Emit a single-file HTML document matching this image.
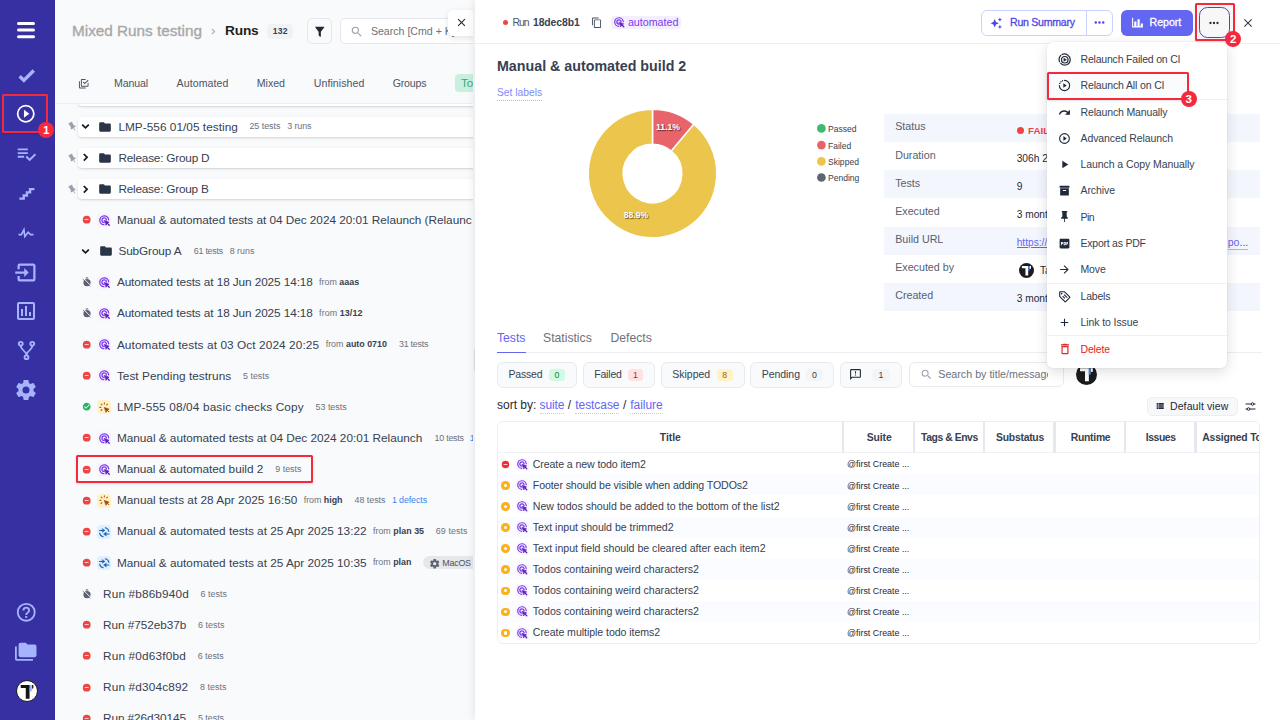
<!DOCTYPE html><html><head><meta charset="utf-8"><title>Runs</title><style>
*{box-sizing:border-box;margin:0;padding:0}
html,body{width:1280px;height:720px;overflow:hidden}
body{font-family:"Liberation Sans",sans-serif;background:#f9fafb;color:#374151;position:relative;-webkit-font-smoothing:antialiased}
.abs{position:absolute}
.ic{display:block;flex:none}
#sidebar{position:absolute;left:0;top:0;width:55px;height:720px;background:#3730a3}
#sidebar .si{position:absolute;left:0;width:52px;display:flex;justify-content:center}
#list{position:absolute;left:55px;top:0;width:420px;height:720px;background:#f9fafb;overflow:hidden}
.bc{position:absolute;left:17px;top:21px;height:20px;display:flex;align-items:center;white-space:nowrap}
.bc .p1{font-size:15.3px;color:#a3a3a3;font-weight:400;letter-spacing:0}
.bc .sep{font-size:13px;color:#9ca3af;margin:0 9px 0 10px}
.bc .p2{font-size:15px;font-weight:700;color:#1f2937}
.bc .cnt{margin-left:9px;font-size:8.5px;font-weight:700;color:#374151;background:#f3f4f6;border-radius:4px;padding:2px 4px}
.fbtn{position:absolute;left:252.2px;top:18.4px;width:25px;height:26px;border:1px solid #e5e7eb;border-radius:5px;background:#f9fafb;display:flex;align-items:center;justify-content:center}
.srch{position:absolute;left:285.4px;top:18.4px;width:160px;height:26px;border:1px solid #e5e7eb;border-radius:5px;background:#fff;display:flex;align-items:center;padding-left:9px;font-size:10.6px;color:#6b7280;white-space:nowrap;overflow:hidden}
.srch svg{margin-right:7px}
#listclip{position:absolute;left:0;top:0;width:418.1px;height:720px;overflow:hidden}
.xtab{position:absolute;left:392.5px;top:10.3px;width:30px;height:25.3px;background:#fff;border-radius:5px 0 0 5px;box-shadow:0 2px 6px rgba(0,0,0,.12);display:flex;align-items:center;padding-left:7px}
.tabs{position:absolute;left:0;top:70px;width:420px;height:33px;border-bottom:1px solid #e5e7eb;font-size:10.6px;color:#4b5563;white-space:nowrap}
.tabs span{position:absolute;top:7px;line-height:12px}
.row{position:absolute;left:0;width:417px;height:20px;display:flex;align-items:center;white-space:nowrap;font-size:11.75px;color:#374151;overflow:hidden}
.row .t{margin-left:0}
.row .m{font-size:8.6px;color:#6b7280;margin-left:9px}
.row .m b{color:#374151}
.row .m2{font-size:8.6px;color:#6b7280;margin-left:5px}
.card{position:absolute;left:23.3px;width:410px;height:20px;background:#fff;border-radius:4px;box-shadow:0 1px 3px rgba(0,0,0,.13),0 1px 1px rgba(0,0,0,.04)}
.tbg{width:14px;height:14px;border-radius:3.5px;display:flex;align-items:center;justify-content:center;flex:none}
#panel{position:absolute;left:475px;top:0;width:805px;height:720px;background:#fff;box-shadow:-2px 0 7px rgba(0,0,0,.08)}
#phead{position:absolute;left:0;top:0;width:805px;height:44.3px;border-bottom:1px solid #eceef1}
.lnk{color:#6366f1}

.chip{margin-left:12px;height:13px;border-radius:6.5px;background:#e5e7eb;display:inline-flex;align-items:center;padding:0 5px 0 4px;font-size:8.8px;color:#374151}
.chip span{margin-left:2.5px}
.th{font-size:10.6px;font-weight:700;color:#374151;line-height:13px;white-space:nowrap}
.sl{border-bottom:1px dotted #c3c9fb;padding-bottom:0}
</style></head><body><div id="list"><div id="listclip"><span class="abs " style="left:17.0px;top:21.4px;font-size:15.3px;line-height:19.1px;letter-spacing:-0.006px;color:#a8a8a8;white-space:nowrap; -webkit-text-stroke:.35px #a8a8a8;">Mixed Runs testing</span><span class="abs" style="left:156px;top:22.5px;font-size:13px;line-height:16px;color:#9ca3af">›</span><span class="abs " style="left:170.0px;top:22.4px;font-size:13.7px;line-height:17.1px;letter-spacing:-0.183px;color:#1f1f1f;font-weight:700;white-space:nowrap;">Runs</span><div class="abs" style="left:212px;top:23.5px;width:26px;height:15px;border-radius:4px;background:#f1f2f4"></div><span class="abs " style="left:217.7px;top:25.9px;font-size:8.6px;line-height:10.8px;letter-spacing:0.276px;color:#374151;font-weight:700;white-space:nowrap;">132</span><div class="fbtn"><svg class="ic" width="13.5" height="13.5" viewBox="0 0 24 24" style=""><path fill="#1f2937" d="M14,12V19.88C14.04,20.18 13.94,20.5 13.71,20.71C13.32,21.1 12.69,21.1 12.3,20.71L10.29,18.7C10.06,18.47 9.96,18.16 10,17.87V12H9.97L4.21,4.62C3.87,4.19 3.95,3.56 4.38,3.22C4.57,3.08 4.78,3 5,3V3H19V3C19.22,3 19.43,3.08 19.62,3.22C20.05,3.56 20.13,4.19 19.79,4.62L14.03,12H14Z"/></svg></div><div class="srch"><svg class="ic" width="13.5" height="13.5" viewBox="0 0 24 24" style=""><path fill="#9ca3af" d="M9.5,3A6.5,6.5 0 0,1 16,9.5C16,11.11 15.41,12.59 14.44,13.73L14.71,14H15.5L20.5,19L19,20.5L14,15.5V14.71L13.73,14.44C12.59,15.41 11.11,16 9.5,16A6.5,6.5 0 0,1 3,9.5A6.5,6.5 0 0,1 9.5,3M9.5,5C7,5 5,7 5,9.5C5,12 7,14 9.5,14C12,14 14,12 14,9.5C14,7 12,5 9.5,5Z"/></svg><span>Search [Cmd + K]</span></div><div class="xtab"><svg class="ic" width="13" height="13" viewBox="0 0 24 24" style=""><path fill="#1f2937" d="M19,6.41L17.59,5L12,10.59L6.41,5L5,6.41L10.59,12L5,17.59L6.41,19L12,13.41L17.59,19L19,17.59L13.41,12L19,6.41Z"/></svg></div><div class="card" style="top:86px;height:19.5px"></div><div class="abs" style="left:0;top:56px;width:420px;height:47px;background:#f9fafb"></div><div class="abs" style="left:0;top:102.5px;width:420px;height:1px;background:#eceef1"></div><div class="abs" style="left:22.5px;top:77.5px"><svg class="ic" width="11.5" height="11.5" viewBox="0 0 24 24" style=""><path fill="#4b5563" d="M20,16V10H22V16A2,2 0 0,1 20,18H8C6.89,18 6,17.1 6,16V4C6,2.89 6.89,2 8,2H16V4H8V16H20M10.91,7.08L14,10.17L20.59,3.58L22,5L14,13L9.5,8.5L10.91,7.08M16,20V22H4A2,2 0 0,1 2,20V7H4V20H16Z"/></svg></div><span class="abs " style="left:59.0px;top:76.7px;font-size:10.6px;line-height:13.2px;letter-spacing:-0.113px;color:#4b5563;white-space:nowrap;">Manual</span><span class="abs " style="left:121.6px;top:76.7px;font-size:10.6px;line-height:13.2px;letter-spacing:0.079px;color:#4b5563;white-space:nowrap;">Automated</span><span class="abs " style="left:201.8px;top:76.7px;font-size:10.6px;line-height:13.2px;letter-spacing:-0.019px;color:#4b5563;white-space:nowrap;">Mixed</span><span class="abs " style="left:258.8px;top:76.7px;font-size:10.6px;line-height:13.2px;letter-spacing:0.046px;color:#4b5563;white-space:nowrap;">Unfinished</span><span class="abs " style="left:337.7px;top:76.7px;font-size:10.6px;line-height:13.2px;letter-spacing:-0.172px;color:#4b5563;white-space:nowrap;">Groups</span><div class="abs" style="left:400px;top:74px;width:40px;height:18px;background:#c9f0de;border-radius:4px"></div><span class="abs" style="left:406px;top:76px;font-size:11.6px;line-height:14px;color:#3aa87a">Total</span><div class="card" style="top:116.80px"></div><div class="abs" style="left:12.099999999999994px;top:121.40px;transform:rotate(-32deg)"><svg class="ic" width="11" height="11" viewBox="0 0 24 24" style=""><path fill="#9aa1ad" d="M16,12V4H17V2H7V4H8V12L6,14V16H11.2V22H12.8V16H18V14L16,12Z"/></svg></div><svg class="abs" style="left:25.3px;top:121.3px" width="11" height="11" viewBox="0 0 11 11" fill="none" stroke="#111827" stroke-width="1.7"><path d="M2.2 3.6L5.5 6.9L8.8 3.6"/></svg><div class="abs" style="left:43.2px;top:119.60px"><svg class="ic" width="14" height="14" viewBox="0 0 24 24" style=""><path fill="#2b3548" d="M10,4H4C2.89,4 2,4.89 2,6V18A2,2 0 0,0 4,20H20A2,2 0 0,0 22,18V8C22,6.89 21.1,6 20,6H12L10,4Z"/></svg></div><span class="abs " style="left:63.4px;top:119.5px;font-size:11.8px;line-height:14.8px;letter-spacing:0.038px;color:#374151;white-space:nowrap;">LMP-556 01/05 testing</span><span class="abs " style="left:194.4px;top:121.3px;font-size:8.9px;line-height:11.1px;letter-spacing:-0.010px;color:#6b7280;white-space:nowrap;">25 tests</span><span class="abs " style="left:232.2px;top:121.3px;font-size:8.9px;line-height:11.1px;letter-spacing:-0.067px;color:#6b7280;white-space:nowrap;">3 runs</span><div class="card" style="top:147.95px"></div><div class="abs" style="left:12.099999999999994px;top:152.55px;transform:rotate(-32deg)"><svg class="ic" width="11" height="11" viewBox="0 0 24 24" style=""><path fill="#9aa1ad" d="M16,12V4H17V2H7V4H8V12L6,14V16H11.2V22H12.8V16H18V14L16,12Z"/></svg></div><svg class="abs" style="left:25.3px;top:152.4px" width="11" height="11" viewBox="0 0 11 11" fill="none" stroke="#111827" stroke-width="1.7"><path d="M3.8 2L7.1 5.3L3.8 8.6"/></svg><div class="abs" style="left:43.2px;top:150.75px"><svg class="ic" width="14" height="14" viewBox="0 0 24 24" style=""><path fill="#2b3548" d="M10,4H4C2.89,4 2,4.89 2,6V18A2,2 0 0,0 4,20H20A2,2 0 0,0 22,18V8C22,6.89 21.1,6 20,6H12L10,4Z"/></svg></div><span class="abs " style="left:63.4px;top:150.7px;font-size:11.8px;line-height:14.8px;letter-spacing:-0.216px;color:#374151;white-space:nowrap;">Release: Group D</span><div class="card" style="top:179.10px"></div><div class="abs" style="left:12.099999999999994px;top:183.70px;transform:rotate(-32deg)"><svg class="ic" width="11" height="11" viewBox="0 0 24 24" style=""><path fill="#9aa1ad" d="M16,12V4H17V2H7V4H8V12L6,14V16H11.2V22H12.8V16H18V14L16,12Z"/></svg></div><svg class="abs" style="left:25.3px;top:183.6px" width="11" height="11" viewBox="0 0 11 11" fill="none" stroke="#111827" stroke-width="1.7"><path d="M3.8 2L7.1 5.3L3.8 8.6"/></svg><div class="abs" style="left:43.2px;top:181.90px"><svg class="ic" width="14" height="14" viewBox="0 0 24 24" style=""><path fill="#2b3548" d="M10,4H4C2.89,4 2,4.89 2,6V18A2,2 0 0,0 4,20H20A2,2 0 0,0 22,18V8C22,6.89 21.1,6 20,6H12L10,4Z"/></svg></div><span class="abs " style="left:63.4px;top:181.8px;font-size:11.8px;line-height:14.8px;letter-spacing:-0.220px;color:#374151;white-space:nowrap;">Release: Group B</span><div class="abs" style="left:26.9px;top:215.3px"><svg class="ic" width="9.4" height="9.4" viewBox="0 0 24 24" style=""><path fill="#ef4444" d="M17,13H7V11H17M12,2A10,10 0 0,0 2,12A10,10 0 0,0 12,22A10,10 0 0,0 22,12A10,10 0 0,0 12,2Z"/></svg></div><div class="abs tbg" style="left:42.4px;top:213.3px;background:#f8f4ff"><svg class="ic" width="11.5" height="11.5" viewBox="0 0 24 24" style="" fill="none" stroke="#7c3aed" stroke-width="2.7" stroke-linecap="round"><path d="M20.2 10.2A9.3 9.3 0 1 0 10.2 20.2"/><path d="M15.4 10.6A4.6 4.6 0 1 0 10.6 15.4"/><path d="M11.5 11.5L21 15L17 17L15 21Z" fill="#5b21b6" stroke="#5b21b6" stroke-width="1.4" stroke-linejoin="round"/><path d="M17.5 17.5L21.3 21.3" stroke="#5b21b6" stroke-width="2.8"/></svg></div><div class="abs" style="left:0;top:210.0px;width:416.95px;height:20px;overflow:hidden"><div style="position:absolute;left:0;top:-210.0px"><span class="abs " style="left:61.9px;top:212.9px;font-size:11.8px;line-height:14.8px;letter-spacing:-0.033px;color:#374151;white-space:nowrap;">Manual &amp; automated tests at 04 Dec 2024 20:01 Relaunch (Relaunch Copy)</span></div></div><svg class="abs" style="left:25.3px;top:245.9px" width="11" height="11" viewBox="0 0 11 11" fill="none" stroke="#111827" stroke-width="1.7"><path d="M2.2 3.6L5.5 6.9L8.8 3.6"/></svg><div class="abs" style="left:43.599999999999994px;top:244.00px"><svg class="ic" width="14" height="14" viewBox="0 0 24 24" style=""><path fill="#2b3548" d="M10,4H4C2.89,4 2,4.89 2,6V18A2,2 0 0,0 4,20H20A2,2 0 0,0 22,18V8C22,6.89 21.1,6 20,6H12L10,4Z"/></svg></div><span class="abs " style="left:63.4px;top:244.1px;font-size:11.8px;line-height:14.8px;letter-spacing:-0.121px;color:#374151;white-space:nowrap;">SubGroup A</span><span class="abs " style="left:138.8px;top:245.9px;font-size:8.9px;line-height:11.1px;letter-spacing:-0.252px;color:#6b7280;white-space:nowrap;">61 tests</span><span class="abs " style="left:174.7px;top:245.9px;font-size:8.9px;line-height:11.1px;letter-spacing:-0.007px;color:#6b7280;white-space:nowrap;">8 runs</span><svg class="abs" style="left:26.6px;top:277.1px" width="10" height="10" viewBox="0 0 24 24"><circle cx="12" cy="13.5" r="8.6" fill="#5b6272"/><rect x="9" y="1" width="6" height="2.6" fill="#5b6272"/><path d="M3.2 2.8L21.5 21" stroke="#f9fafb" stroke-width="2.2"/><path d="M1.8 4.6L20 22.8" stroke="#5b6272" stroke-width="1.7"/></svg><div class="abs tbg" style="left:42.4px;top:275.7px;background:#f8f4ff"><svg class="ic" width="11.5" height="11.5" viewBox="0 0 24 24" style="" fill="none" stroke="#7c3aed" stroke-width="2.7" stroke-linecap="round"><path d="M20.2 10.2A9.3 9.3 0 1 0 10.2 20.2"/><path d="M15.4 10.6A4.6 4.6 0 1 0 10.6 15.4"/><path d="M11.5 11.5L21 15L17 17L15 21Z" fill="#5b21b6" stroke="#5b21b6" stroke-width="1.4" stroke-linejoin="round"/><path d="M17.5 17.5L21.3 21.3" stroke="#5b21b6" stroke-width="2.8"/></svg></div><span class="abs " style="left:61.9px;top:275.3px;font-size:11.8px;line-height:14.8px;letter-spacing:-0.098px;color:#374151;white-space:nowrap;">Automated tests at 18 Jun 2025 14:18</span><span class="abs" style="left:264.1px;top:277.1px;font-size:8.9px;line-height:11.1px;letter-spacing:0.004px;color:#6b7280;white-space:nowrap">from <b style="color:#374151">aaas</b></span><svg class="abs" style="left:26.6px;top:308.2px" width="10" height="10" viewBox="0 0 24 24"><circle cx="12" cy="13.5" r="8.6" fill="#5b6272"/><rect x="9" y="1" width="6" height="2.6" fill="#5b6272"/><path d="M3.2 2.8L21.5 21" stroke="#f9fafb" stroke-width="2.2"/><path d="M1.8 4.6L20 22.8" stroke="#5b6272" stroke-width="1.7"/></svg><div class="abs tbg" style="left:42.4px;top:306.8px;background:#f8f4ff"><svg class="ic" width="11.5" height="11.5" viewBox="0 0 24 24" style="" fill="none" stroke="#7c3aed" stroke-width="2.7" stroke-linecap="round"><path d="M20.2 10.2A9.3 9.3 0 1 0 10.2 20.2"/><path d="M15.4 10.6A4.6 4.6 0 1 0 10.6 15.4"/><path d="M11.5 11.5L21 15L17 17L15 21Z" fill="#5b21b6" stroke="#5b21b6" stroke-width="1.4" stroke-linejoin="round"/><path d="M17.5 17.5L21.3 21.3" stroke="#5b21b6" stroke-width="2.8"/></svg></div><span class="abs " style="left:61.9px;top:306.4px;font-size:11.8px;line-height:14.8px;letter-spacing:-0.098px;color:#374151;white-space:nowrap;">Automated tests at 18 Jun 2025 14:18</span><span class="abs" style="left:264.1px;top:308.2px;font-size:8.9px;line-height:11.1px;letter-spacing:0.095px;color:#6b7280;white-space:nowrap">from <b style="color:#374151">13/12</b></span><div class="abs" style="left:26.9px;top:339.9px"><svg class="ic" width="9.4" height="9.4" viewBox="0 0 24 24" style=""><path fill="#ef4444" d="M17,13H7V11H17M12,2A10,10 0 0,0 2,12A10,10 0 0,0 12,22A10,10 0 0,0 22,12A10,10 0 0,0 12,2Z"/></svg></div><div class="abs tbg" style="left:42.4px;top:337.9px;background:#f8f4ff"><svg class="ic" width="11.5" height="11.5" viewBox="0 0 24 24" style="" fill="none" stroke="#7c3aed" stroke-width="2.7" stroke-linecap="round"><path d="M20.2 10.2A9.3 9.3 0 1 0 10.2 20.2"/><path d="M15.4 10.6A4.6 4.6 0 1 0 10.6 15.4"/><path d="M11.5 11.5L21 15L17 17L15 21Z" fill="#5b21b6" stroke="#5b21b6" stroke-width="1.4" stroke-linejoin="round"/><path d="M17.5 17.5L21.3 21.3" stroke="#5b21b6" stroke-width="2.8"/></svg></div><span class="abs " style="left:61.9px;top:337.6px;font-size:11.8px;line-height:14.8px;letter-spacing:0.098px;color:#374151;white-space:nowrap;">Automated tests at 03 Oct 2024 20:25</span><span class="abs" style="left:270.7px;top:339.4px;font-size:8.9px;line-height:11.1px;letter-spacing:0.005px;color:#6b7280;white-space:nowrap">from <b style="color:#374151">auto 0710</b></span><span class="abs " style="left:344.0px;top:339.4px;font-size:8.9px;line-height:11.1px;letter-spacing:-0.252px;color:#6b7280;white-space:nowrap;">31 tests</span><div class="abs" style="left:26.9px;top:371.1px"><svg class="ic" width="9.4" height="9.4" viewBox="0 0 24 24" style=""><path fill="#ef4444" d="M17,13H7V11H17M12,2A10,10 0 0,0 2,12A10,10 0 0,0 12,22A10,10 0 0,0 22,12A10,10 0 0,0 12,2Z"/></svg></div><div class="abs tbg" style="left:42.4px;top:369.1px;background:#f8f4ff"><svg class="ic" width="11.5" height="11.5" viewBox="0 0 24 24" style="" fill="none" stroke="#7c3aed" stroke-width="2.7" stroke-linecap="round"><path d="M20.2 10.2A9.3 9.3 0 1 0 10.2 20.2"/><path d="M15.4 10.6A4.6 4.6 0 1 0 10.6 15.4"/><path d="M11.5 11.5L21 15L17 17L15 21Z" fill="#5b21b6" stroke="#5b21b6" stroke-width="1.4" stroke-linejoin="round"/><path d="M17.5 17.5L21.3 21.3" stroke="#5b21b6" stroke-width="2.8"/></svg></div><span class="abs " style="left:61.9px;top:368.7px;font-size:11.8px;line-height:14.8px;letter-spacing:0.041px;color:#374151;white-space:nowrap;">Test Pending testruns</span><span class="abs " style="left:188.1px;top:370.5px;font-size:8.9px;line-height:11.1px;letter-spacing:-0.020px;color:#6b7280;white-space:nowrap;">5 tests</span><div class="abs" style="left:26.9px;top:402.2px"><svg class="ic" width="9.4" height="9.4" viewBox="0 0 24 24" style=""><path fill="#22b562" d="M12 2C6.5 2 2 6.5 2 12S6.5 22 12 22 22 17.5 22 12 17.5 2 12 2M10 17L5 12L6.41 10.59L10 14.17L17.59 6.58L19 8L10 17Z"/></svg></div><div class="abs tbg" style="left:42.4px;top:400.2px;background:#fef3c7"><svg class="ic" width="12.5" height="12.5" viewBox="0 0 24 24" style="" fill="none" stroke="#c2570c" stroke-width="2.2" stroke-linecap="round"><path d="M12.5 12.5L21.2 15.6L17.7 17.3L21 20.6L20.6 21L17.3 17.7L15.6 21.2Z" fill="#9a3f06" stroke="#9a3f06" stroke-width="1.2" stroke-linejoin="round"/><path d="M5.6 12.2H3.4M7.5 7.5L6 6M12.2 5.6V3.4M16.7 7.4L18.2 5.9M7.4 16.7L5.9 18.2"/></svg></div><span class="abs " style="left:61.9px;top:399.8px;font-size:11.8px;line-height:14.8px;letter-spacing:0.149px;color:#374151;white-space:nowrap;">LMP-555 08/04 basic checks Copy</span><span class="abs " style="left:260.6px;top:401.7px;font-size:8.9px;line-height:11.1px;letter-spacing:-0.010px;color:#6b7280;white-space:nowrap;">53 tests</span><div class="abs" style="left:26.9px;top:433.4px"><svg class="ic" width="9.4" height="9.4" viewBox="0 0 24 24" style=""><path fill="#ef4444" d="M17,13H7V11H17M12,2A10,10 0 0,0 2,12A10,10 0 0,0 12,22A10,10 0 0,0 22,12A10,10 0 0,0 12,2Z"/></svg></div><div class="abs tbg" style="left:42.4px;top:431.4px;background:#f8f4ff"><svg class="ic" width="11.5" height="11.5" viewBox="0 0 24 24" style="" fill="none" stroke="#7c3aed" stroke-width="2.7" stroke-linecap="round"><path d="M20.2 10.2A9.3 9.3 0 1 0 10.2 20.2"/><path d="M15.4 10.6A4.6 4.6 0 1 0 10.6 15.4"/><path d="M11.5 11.5L21 15L17 17L15 21Z" fill="#5b21b6" stroke="#5b21b6" stroke-width="1.4" stroke-linejoin="round"/><path d="M17.5 17.5L21.3 21.3" stroke="#5b21b6" stroke-width="2.8"/></svg></div><span class="abs " style="left:61.9px;top:431.0px;font-size:11.8px;line-height:14.8px;letter-spacing:-0.016px;color:#374151;white-space:nowrap;">Manual &amp; automated tests at 04 Dec 2024 20:01 Relaunch</span><span class="abs " style="left:379.6px;top:432.9px;font-size:8.9px;line-height:11.1px;letter-spacing:-0.252px;color:#6b7280;white-space:nowrap;">10 tests</span><span class="abs " style="left:414.7px;top:432.9px;font-size:8.9px;line-height:11.1px;letter-spacing:-0.102px;color:#3b82f6;white-space:nowrap;">1 defects</span><div class="abs" style="left:26.9px;top:464.6px"><svg class="ic" width="9.4" height="9.4" viewBox="0 0 24 24" style=""><path fill="#ef4444" d="M17,13H7V11H17M12,2A10,10 0 0,0 2,12A10,10 0 0,0 12,22A10,10 0 0,0 22,12A10,10 0 0,0 12,2Z"/></svg></div><div class="abs tbg" style="left:42.4px;top:462.6px;background:#f8f4ff"><svg class="ic" width="11.5" height="11.5" viewBox="0 0 24 24" style="" fill="none" stroke="#7c3aed" stroke-width="2.7" stroke-linecap="round"><path d="M20.2 10.2A9.3 9.3 0 1 0 10.2 20.2"/><path d="M15.4 10.6A4.6 4.6 0 1 0 10.6 15.4"/><path d="M11.5 11.5L21 15L17 17L15 21Z" fill="#5b21b6" stroke="#5b21b6" stroke-width="1.4" stroke-linejoin="round"/><path d="M17.5 17.5L21.3 21.3" stroke="#5b21b6" stroke-width="2.8"/></svg></div><span class="abs " style="left:61.9px;top:462.2px;font-size:11.8px;line-height:14.8px;letter-spacing:-0.022px;color:#374151;white-space:nowrap;">Manual &amp; automated build 2</span><span class="abs " style="left:220.2px;top:464.0px;font-size:8.9px;line-height:11.1px;letter-spacing:0.030px;color:#6b7280;white-space:nowrap;">9 tests</span><div class="abs" style="left:26.9px;top:495.7px"><svg class="ic" width="9.4" height="9.4" viewBox="0 0 24 24" style=""><path fill="#ef4444" d="M17,13H7V11H17M12,2A10,10 0 0,0 2,12A10,10 0 0,0 12,22A10,10 0 0,0 22,12A10,10 0 0,0 12,2Z"/></svg></div><div class="abs tbg" style="left:42.4px;top:493.7px;background:#fef3c7"><svg class="ic" width="12.5" height="12.5" viewBox="0 0 24 24" style="" fill="none" stroke="#c2570c" stroke-width="2.2" stroke-linecap="round"><path d="M12.5 12.5L21.2 15.6L17.7 17.3L21 20.6L20.6 21L17.3 17.7L15.6 21.2Z" fill="#9a3f06" stroke="#9a3f06" stroke-width="1.2" stroke-linejoin="round"/><path d="M5.6 12.2H3.4M7.5 7.5L6 6M12.2 5.6V3.4M16.7 7.4L18.2 5.9M7.4 16.7L5.9 18.2"/></svg></div><span class="abs " style="left:61.9px;top:493.3px;font-size:11.8px;line-height:14.8px;letter-spacing:0.023px;color:#374151;white-space:nowrap;">Manual tests at 28 Apr 2025 16:50</span><span class="abs" style="left:248.7px;top:495.1px;font-size:8.9px;line-height:11.1px;letter-spacing:-0.019px;color:#6b7280;white-space:nowrap">from <b style="color:#374151">high</b></span><span class="abs " style="left:299.5px;top:495.1px;font-size:8.9px;line-height:11.1px;letter-spacing:-0.010px;color:#6b7280;white-space:nowrap;">48 tests</span><span class="abs " style="left:336.9px;top:495.1px;font-size:8.9px;line-height:11.1px;letter-spacing:-0.102px;color:#3b82f6;white-space:nowrap;">1 defects</span><div class="abs" style="left:26.9px;top:526.8px"><svg class="ic" width="9.4" height="9.4" viewBox="0 0 24 24" style=""><path fill="#ef4444" d="M17,13H7V11H17M12,2A10,10 0 0,0 2,12A10,10 0 0,0 12,22A10,10 0 0,0 22,12A10,10 0 0,0 12,2Z"/></svg></div><div class="abs tbg" style="left:42.4px;top:524.8px;background:#e1effe"><svg class="ic" width="12.5" height="12.5" viewBox="0 0 24 24" style="" fill="none" stroke="#1c64b0" stroke-width="2.1" stroke-linecap="round"><path d="M2.8 8.5H9"/><path d="M8.6 5.2L13.4 8.5L8.6 11.8Z" fill="#1c64b0" stroke-width="1" stroke-linejoin="round"/><path d="M14 3.4A8.8 8.8 0 0 1 20.8 10.4"/><path d="M21.2 15.5H15"/><path d="M15.4 12.2L10.6 15.5L15.4 18.8Z" fill="#1c64b0" stroke-width="1" stroke-linejoin="round"/><path d="M10 20.6A8.8 8.8 0 0 1 3.2 13.6"/></svg></div><span class="abs " style="left:61.9px;top:524.4px;font-size:11.8px;line-height:14.8px;letter-spacing:-0.005px;color:#374151;white-space:nowrap;">Manual &amp; automated tests at 25 Apr 2025 13:22</span><span class="abs" style="left:317.9px;top:526.3px;font-size:8.9px;line-height:11.1px;letter-spacing:0.033px;color:#6b7280;white-space:nowrap">from <b style="color:#374151">plan 35</b></span><span class="abs " style="left:380.8px;top:526.3px;font-size:8.9px;line-height:11.1px;letter-spacing:0.090px;color:#6b7280;white-space:nowrap;">69 tests</span><div class="abs" style="left:26.9px;top:558.0px"><svg class="ic" width="9.4" height="9.4" viewBox="0 0 24 24" style=""><path fill="#ef4444" d="M17,13H7V11H17M12,2A10,10 0 0,0 2,12A10,10 0 0,0 12,22A10,10 0 0,0 22,12A10,10 0 0,0 12,2Z"/></svg></div><div class="abs tbg" style="left:42.4px;top:556.0px;background:#e1effe"><svg class="ic" width="12.5" height="12.5" viewBox="0 0 24 24" style="" fill="none" stroke="#1c64b0" stroke-width="2.1" stroke-linecap="round"><path d="M2.8 8.5H9"/><path d="M8.6 5.2L13.4 8.5L8.6 11.8Z" fill="#1c64b0" stroke-width="1" stroke-linejoin="round"/><path d="M14 3.4A8.8 8.8 0 0 1 20.8 10.4"/><path d="M21.2 15.5H15"/><path d="M15.4 12.2L10.6 15.5L15.4 18.8Z" fill="#1c64b0" stroke-width="1" stroke-linejoin="round"/><path d="M10 20.6A8.8 8.8 0 0 1 3.2 13.6"/></svg></div><span class="abs " style="left:61.9px;top:555.6px;font-size:11.8px;line-height:14.8px;letter-spacing:-0.005px;color:#374151;white-space:nowrap;">Manual &amp; automated tests at 25 Apr 2025 10:35</span><span class="abs" style="left:317.9px;top:557.4px;font-size:8.9px;line-height:11.1px;letter-spacing:0.004px;color:#6b7280;white-space:nowrap">from <b style="color:#374151">plan</b></span><div class="abs" style="left:368px;top:556.0px;width:60px;height:13px;border-radius:6.5px;background:#e5e7eb"></div><div class="abs" style="left:373.7px;top:557.9px"><svg class="ic" width="11.4" height="11.4" viewBox="0 0 24 24" style=""><path fill="#5b6272" d="M12,15.5A3.5,3.5 0 0,1 8.5,12A3.5,3.5 0 0,1 12,8.5A3.5,3.5 0 0,1 15.5,12A3.5,3.5 0 0,1 12,15.5M19.43,12.97C19.47,12.65 19.5,12.33 19.5,12C19.5,11.67 19.47,11.34 19.43,11L21.54,9.37C21.73,9.22 21.78,8.95 21.66,8.73L19.66,5.27C19.54,5.05 19.27,4.96 19.05,5.05L16.56,6.05C16.04,5.66 15.5,5.32 14.87,5.07L14.5,2.42C14.46,2.18 14.25,2 14,2H10C9.75,2 9.54,2.18 9.5,2.42L9.13,5.07C8.5,5.32 7.96,5.66 7.44,6.05L4.95,5.05C4.73,4.96 4.46,5.05 4.34,5.27L2.34,8.73C2.21,8.95 2.27,9.22 2.46,9.37L4.57,11C4.53,11.34 4.5,11.67 4.5,12C4.5,12.33 4.53,12.65 4.57,12.97L2.46,14.63C2.27,14.78 2.21,15.05 2.34,15.27L4.34,18.73C4.46,18.95 4.73,19.03 4.95,18.95L7.44,17.94C7.96,18.34 8.5,18.68 9.13,18.93L9.5,21.58C9.54,21.82 9.75,22 10,22H14C14.25,22 14.46,21.82 14.5,21.58L14.87,18.93C15.5,18.67 16.04,18.34 16.56,17.94L19.05,18.95C19.27,19.03 19.54,18.95 19.66,18.73L21.66,15.27C21.78,15.05 21.73,14.78 21.54,14.63L19.43,12.97Z"/></svg></div><span class="abs " style="left:387.3px;top:558.0px;font-size:8.9px;line-height:11.1px;letter-spacing:-0.218px;color:#4b5563;white-space:nowrap;">MacOS</span><svg class="abs" style="left:26.6px;top:588.6px" width="10" height="10" viewBox="0 0 24 24"><circle cx="12" cy="13.5" r="8.6" fill="#5b6272"/><rect x="9" y="1" width="6" height="2.6" fill="#5b6272"/><path d="M3.2 2.8L21.5 21" stroke="#f9fafb" stroke-width="2.2"/><path d="M1.8 4.6L20 22.8" stroke="#5b6272" stroke-width="1.7"/></svg><span class="abs " style="left:48.0px;top:586.8px;font-size:11.8px;line-height:14.8px;letter-spacing:0.151px;color:#374151;white-space:nowrap;">Run #b86b940d</span><span class="abs " style="left:145.6px;top:588.6px;font-size:8.9px;line-height:11.1px;letter-spacing:0.047px;color:#6b7280;white-space:nowrap;">6 tests</span><div class="abs" style="left:26.9px;top:620.3px"><svg class="ic" width="9.4" height="9.4" viewBox="0 0 24 24" style=""><path fill="#ef4444" d="M17,13H7V11H17M12,2A10,10 0 0,0 2,12A10,10 0 0,0 12,22A10,10 0 0,0 22,12A10,10 0 0,0 12,2Z"/></svg></div><span class="abs " style="left:48.0px;top:617.9px;font-size:11.8px;line-height:14.8px;letter-spacing:-0.049px;color:#374151;white-space:nowrap;">Run #752eb37b</span><span class="abs " style="left:143.0px;top:619.8px;font-size:8.9px;line-height:11.1px;letter-spacing:0.030px;color:#6b7280;white-space:nowrap;">6 tests</span><div class="abs" style="left:26.9px;top:651.4px"><svg class="ic" width="9.4" height="9.4" viewBox="0 0 24 24" style=""><path fill="#ef4444" d="M17,13H7V11H17M12,2A10,10 0 0,0 2,12A10,10 0 0,0 12,22A10,10 0 0,0 22,12A10,10 0 0,0 12,2Z"/></svg></div><span class="abs " style="left:48.0px;top:649.0px;font-size:11.8px;line-height:14.8px;letter-spacing:0.175px;color:#374151;white-space:nowrap;">Run #0d63f0bd</span><span class="abs " style="left:142.7px;top:650.9px;font-size:8.9px;line-height:11.1px;letter-spacing:-0.020px;color:#6b7280;white-space:nowrap;">6 tests</span><div class="abs" style="left:26.9px;top:682.6px"><svg class="ic" width="9.4" height="9.4" viewBox="0 0 24 24" style=""><path fill="#ef4444" d="M17,13H7V11H17M12,2A10,10 0 0,0 2,12A10,10 0 0,0 12,22A10,10 0 0,0 22,12A10,10 0 0,0 12,2Z"/></svg></div><span class="abs " style="left:48.0px;top:680.2px;font-size:11.8px;line-height:14.8px;letter-spacing:0.156px;color:#374151;white-space:nowrap;">Run #d304c892</span><span class="abs " style="left:145.0px;top:682.0px;font-size:8.9px;line-height:11.1px;letter-spacing:0.047px;color:#6b7280;white-space:nowrap;">8 tests</span><div class="abs" style="left:26.9px;top:713.8px"><svg class="ic" width="9.4" height="9.4" viewBox="0 0 24 24" style=""><path fill="#ef4444" d="M17,13H7V11H17M12,2A10,10 0 0,0 2,12A10,10 0 0,0 12,22A10,10 0 0,0 22,12A10,10 0 0,0 12,2Z"/></svg></div><span class="abs " style="left:48.0px;top:711.4px;font-size:11.8px;line-height:14.8px;letter-spacing:-0.074px;color:#374151;white-space:nowrap;">Run #26d30145</span><span class="abs " style="left:143.0px;top:713.2px;font-size:8.9px;line-height:11.1px;letter-spacing:-0.020px;color:#6b7280;white-space:nowrap;">5 tests</span></div><div class="abs" style="left:419px;top:349px;width:2.3px;height:22px;background:#dfe2e7;border-radius:1px"></div></div><div id="sidebar"><div class="abs" style="left:16.8px;top:21.7px;width:18px;height:3.2px;border-radius:1.5px;background:#fff;box-shadow:0 6.6px 0 #fff,0 13.2px 0 #fff"></div><div class="si" style="top:64.5px"><svg class="ic" width="21" height="21" viewBox="0 0 24 24" style=""><path fill="#a5b4fc" d="M9,20.42L2.79,14.21L5.62,11.38L9,14.77L18.88,4.88L21.71,7.71L9,20.42Z"/></svg></div><div class="si" style="top:103.45px"><svg class="ic" width="21.5" height="21.5" viewBox="0 0 24 24" style=""><path fill="#fff" d="M12,20C7.59,20 4,16.41 4,12C4,7.59 7.59,4 12,4C16.41,4 20,7.59 20,12C20,16.41 16.41,20 12,20M12,2A10,10 0 0,0 2,12A10,10 0 0,0 12,22A10,10 0 0,0 22,12A10,10 0 0,0 12,2M10,16.5L16,12L10,7.5V16.5Z"/></svg></div><div class="si" style="top:142.5px"><svg class="ic" width="22" height="22" viewBox="0 0 24 24" style=""><path fill="#a5b4fc" d="M14,10H3V12H14V10M14,6H3V8H14V6M3,16H10V14H3V16M21.5,11.5L23,13L16,20L11.5,15.5L13,14L16,17L21.5,11.5Z"/></svg></div><div class="si" style="top:183.5px"><svg class="ic" width="19" height="19" viewBox="0 0 24 24" style=""><path fill="#a5b4fc" d="M15,5V9H11V13H7V17H3V20H10V16H14V12H18V8H22V5H15Z"/></svg></div><div class="si" style="top:222.5px"><svg class="ic" width="20" height="20" viewBox="0 0 24 24" style=""><path fill="#a5b4fc" d="M3,13H5.79L10.1,4.79L11.28,13.75L14.5,9.66L17.83,13H21V15H17L14.67,12.67L9.92,18.73L8.94,11.31L7,15H3V13Z"/></svg></div><div class="si" style="top:258.5px"><svg class="ic" width="27" height="27" viewBox="0 0 24 24" style=""><path fill="#a5b4fc" d="M14,12L10,8V11H2V13H10V16M20,18V6C20,4.89 19.1,4 18,4H6A2,2 0 0,0 4,6V9H6V6H18V18H6V15H4V18A2,2 0 0,0 6,20H18A2,2 0 0,0 20,18Z"/></svg></div><div class="si" style="top:299.0px"><svg class="ic" width="24" height="24" viewBox="0 0 24 24" style=""><path fill="#a5b4fc" d="M9,17H7V10H9V17M13,17H11V7H13V17M17,17H15V13H17V17M19,19H5V5H19V19.1M19,3H5C3.9,3 3,3.9 3,5V19C3,20.1 3.9,21 5,21H19C20.1,21 21,20.1 21,19V5C21,3.9 20.1,3 19,3Z"/></svg></div><div class="si" style="top:339.0px"><svg class="ic" width="23" height="23" viewBox="0 0 24 24" style=""><path fill="#a5b4fc" d="M6,2A3,3 0 0,1 9,5C9,6.28 8.19,7.38 7.06,7.81C7.15,8.27 7.39,8.83 8,9.63C9,10.92 11,12.83 12,14.17C13,12.83 15,10.92 16,9.63C16.61,8.83 16.85,8.27 16.94,7.81C15.81,7.38 15,6.28 15,5A3,3 0 0,1 18,2A3,3 0 0,1 21,5C21,6.32 20.14,7.45 18.95,7.85C18.87,8.37 18.64,9 18,9.83C17,11.17 15,13.08 14,14.38C13.39,15.17 13.15,15.73 13.06,16.19C14.19,16.62 15,17.72 15,19A3,3 0 0,1 12,22A3,3 0 0,1 9,19C9,17.72 9.81,16.62 10.94,16.19C10.85,15.73 10.61,15.17 10,14.38C9,13.08 7,11.17 6,9.83C5.36,9 5.13,8.37 5.05,7.85C3.86,7.45 3,6.32 3,5A3,3 0 0,1 6,2M6,4A1,1 0 0,0 5,5A1,1 0 0,0 6,6A1,1 0 0,0 7,5A1,1 0 0,0 6,4M18,4A1,1 0 0,0 17,5A1,1 0 0,0 18,6A1,1 0 0,0 19,5A1,1 0 0,0 18,4M12,18A1,1 0 0,0 11,19A1,1 0 0,0 12,20A1,1 0 0,0 13,19A1,1 0 0,0 12,18Z"/></svg></div><div class="si" style="top:378.0px"><svg class="ic" width="24" height="24" viewBox="0 0 24 24" style=""><path fill="#a5b4fc" d="M12,15.5A3.5,3.5 0 0,1 8.5,12A3.5,3.5 0 0,1 12,8.5A3.5,3.5 0 0,1 15.5,12A3.5,3.5 0 0,1 12,15.5M19.43,12.97C19.47,12.65 19.5,12.33 19.5,12C19.5,11.67 19.47,11.34 19.43,11L21.54,9.37C21.73,9.22 21.78,8.95 21.66,8.73L19.66,5.27C19.54,5.05 19.27,4.96 19.05,5.05L16.56,6.05C16.04,5.66 15.5,5.32 14.87,5.07L14.5,2.42C14.46,2.18 14.25,2 14,2H10C9.75,2 9.54,2.18 9.5,2.42L9.13,5.07C8.5,5.32 7.96,5.66 7.44,6.05L4.95,5.05C4.73,4.96 4.46,5.05 4.34,5.27L2.34,8.73C2.21,8.95 2.27,9.22 2.46,9.37L4.57,11C4.53,11.34 4.5,11.67 4.5,12C4.5,12.33 4.53,12.65 4.57,12.97L2.46,14.63C2.27,14.78 2.21,15.05 2.34,15.27L4.34,18.73C4.46,18.95 4.73,19.03 4.95,18.95L7.44,17.94C7.96,18.34 8.5,18.68 9.13,18.93L9.5,21.58C9.54,21.82 9.75,22 10,22H14C14.25,22 14.46,21.82 14.5,21.58L14.87,18.93C15.5,18.67 16.04,18.34 16.56,17.94L19.05,18.95C19.27,19.03 19.54,18.95 19.66,18.73L21.66,15.27C21.78,15.05 21.73,14.78 21.54,14.63L19.43,12.97Z"/></svg></div><div class="si" style="top:600.95px"><svg class="ic" width="22.5" height="22.5" viewBox="0 0 24 24" style=""><path fill="#a5b4fc" d="M11,18H13V16H11V18M12,2A10,10 0 0,0 2,12A10,10 0 0,0 12,22A10,10 0 0,0 22,12A10,10 0 0,0 12,2M12,20C7.59,20 4,16.41 4,12C4,7.59 7.59,4 12,4C16.41,4 20,7.59 20,12C20,16.41 16.41,20 12,20M12,6A4,4 0 0,0 8,10H10A2,2 0 0,1 12,8A2,2 0 0,1 14,10C14,12 11,11.75 11,15H13C13,12.75 16,12.5 16,10A4,4 0 0,0 12,6Z"/></svg></div><div class="si" style="top:640.75px"><svg class="ic" width="21.5" height="21.5" viewBox="0 0 24 24" style=""><path fill="#a5b4fc" d="M22,4H14L12,2H6A2,2 0 0,0 4,4V16A2,2 0 0,0 6,18H22A2,2 0 0,0 24,16V6A2,2 0 0,0 22,4M2,6H0V11H0V20A2,2 0 0,0 2,22H20V20H2V6Z"/></svg></div><div class="abs" style="left:15.5px;top:680px;width:22.3px;height:22.3px;border-radius:50%;background:#fff;border:1.3px solid #1a1a1a"></div>
<svg class="abs" style="left:15.5px;top:680px" width="22.3" height="22.3" viewBox="0 0 24 24"><path d="M5.1 5.5H14.8V8.6H14.6V20.2H10.5V8.6H5.1Z" fill="#151515"/><path d="M14.8 5.5H17V12.1H14.8Z" fill="#8fb5fa"/><path d="M17.3 5.5H18.7V9.2H17.3Z" fill="#151515"/></svg></div><div id="panel"><div id="phead"></div><div class="abs" style="left:27.5px;top:20.2px;width:5px;height:5px;border-radius:50%;background:#ef4444"></div><span class="abs " style="left:37.5px;top:16.2px;font-size:10.4px;line-height:13.0px;letter-spacing:-1.039px;color:#4b5563;white-space:nowrap;">Run</span><span class="abs " style="left:58.0px;top:16.2px;font-size:10.4px;line-height:13.0px;letter-spacing:-0.101px;color:#374151;font-weight:700;white-space:nowrap;">18dec8b1</span><div class="abs" style="left:116px;top:16.5px"><svg class="ic" width="11.5" height="11.5" viewBox="0 0 24 24" style=""><path fill="#4b5563" d="M19,21H8V7H19M19,5H8A2,2 0 0,0 6,7V21A2,2 0 0,0 8,23H19A2,2 0 0,0 21,21V7A2,2 0 0,0 19,5M16,1H4A2,2 0 0,0 2,3V17H4V3H16V1Z"/></svg></div><div class="abs" style="left:136px;top:15.8px;width:70.3px;height:13.6px;border-radius:4px;background:#f3efff"></div><div class="abs" style="left:139px;top:17px"><svg class="ic" width="11" height="11" viewBox="0 0 24 24" style="" fill="none" stroke="#7c3aed" stroke-width="2.7" stroke-linecap="round"><path d="M20.2 10.2A9.3 9.3 0 1 0 10.2 20.2"/><path d="M15.4 10.6A4.6 4.6 0 1 0 10.6 15.4"/><path d="M11.5 11.5L21 15L17 17L15 21Z" fill="#5b21b6" stroke="#5b21b6" stroke-width="1.4" stroke-linejoin="round"/><path d="M17.5 17.5L21.3 21.3" stroke="#5b21b6" stroke-width="2.8"/></svg></div><span class="abs " style="left:152.9px;top:15.6px;font-size:10.7px;line-height:13.4px;letter-spacing:0.004px;color:#7c3aed;white-space:nowrap;">automated</span><div class="abs" style="left:506px;top:10px;width:131.5px;height:25.5px;border:1px solid #c7d2fe;border-radius:6px;background:#fff"></div><div class="abs" style="left:610.8px;top:10px;width:1px;height:25.5px;background:#c7d2fe"></div><div class="abs" style="left:515px;top:16.5px"><svg class="ic" width="12.5" height="12.5" viewBox="0 0 24 24" style=""><path fill="#4f46e5" d="M19,1L17.74,3.75L15,5L17.74,6.26L19,9L20.25,6.26L23,5L20.25,3.75M9,4L6.5,9.5L1,12L6.5,14.5L9,20L11.5,14.5L17,12L11.5,9.5M19,15L17.74,17.74L15,19L17.74,20.25L19,23L20.25,20.25L23,19L20.25,17.74"/></svg></div><span class="abs " style="left:535.0px;top:16.0px;font-size:10.6px;line-height:13.2px;letter-spacing:-0.274px;color:#4f46e5;white-space:nowrap;-webkit-text-stroke:.3px #4f46e5;">Run Summary</span><div class="abs" style="left:617px;top:15px"><svg class="ic" width="15" height="15" viewBox="0 0 24 24" style=""><path fill="#4f46e5" d="M16,12A2,2 0 0,1 18,10A2,2 0 0,1 20,12A2,2 0 0,1 18,14A2,2 0 0,1 16,12M10,12A2,2 0 0,1 12,10A2,2 0 0,1 14,12A2,2 0 0,1 12,14A2,2 0 0,1 10,12M4,12A2,2 0 0,1 6,10A2,2 0 0,1 8,12A2,2 0 0,1 6,14A2,2 0 0,1 4,12Z"/></svg></div><div class="abs" style="left:645.5px;top:10px;width:72.5px;height:25.5px;border-radius:6px;background:#6366f1"></div><div class="abs" style="left:655.5px;top:16px"><svg class="ic" width="13" height="13" viewBox="0 0 24 24" style=""><path fill="#fff" d="M22,21H2V3H4V19H6V10H10V19H12V6H16V19H18V14H22V21Z"/></svg></div><span class="abs " style="left:674.5px;top:16.0px;font-size:10.6px;line-height:13.2px;letter-spacing:-0.003px;color:#fff;white-space:nowrap;-webkit-text-stroke:.3px #fff;">Report</span><div class="abs" style="left:720px;top:3.6px;width:39.5px;height:37.6px;background:#f5f6f8"></div><div class="abs" style="left:723.5px;top:7.1px;width:31.5px;height:31.4px;border:1.8px solid #4a44d1;border-radius:8.5px;background:#f7f7f8"></div><div class="abs" style="left:732.2px;top:15.7px"><svg class="ic" width="14" height="14" viewBox="0 0 24 24" style=""><path fill="#1f2937" d="M16,12A2,2 0 0,1 18,10A2,2 0 0,1 20,12A2,2 0 0,1 18,14A2,2 0 0,1 16,12M10,12A2,2 0 0,1 12,10A2,2 0 0,1 14,12A2,2 0 0,1 12,14A2,2 0 0,1 10,12M4,12A2,2 0 0,1 6,10A2,2 0 0,1 8,12A2,2 0 0,1 6,14A2,2 0 0,1 4,12Z"/></svg></div><div class="abs" style="left:766px;top:16px"><svg class="ic" width="14" height="14" viewBox="0 0 24 24" style=""><path fill="#374151" d="M19,6.41L17.59,5L12,10.59L6.41,5L5,6.41L10.59,12L5,17.59L6.41,19L12,13.41L17.59,19L19,17.59L13.41,12L19,6.41Z"/></svg></div><div class="abs" style="left:22px;top:57px;font-size:14.25px;line-height:18px;font-weight:700;color:#374151;white-space:nowrap">Manual &amp; automated build 2</div><div class="abs" style="left:22px;top:85.5px;font-size:10.3px;line-height:13px;color:#818cf8;white-space:nowrap;border-bottom:1px dotted #a5b4fc;padding-bottom:1px">Set labels</div><svg class="abs" style="left:0;top:0" width="805" height="320" viewBox="0 0 805 320"><path d="M177.50 109.20A64.3 64.3 0 0 1 218.83 124.24L196.33 151.05A29.3 29.3 0 0 0 177.50 144.20Z" fill="#e8646a" stroke="#fff" stroke-width="1.5"/><path d="M218.83 124.24A64.3 64.3 0 1 1 177.50 109.20L177.50 144.20A29.3 29.3 0 1 0 196.33 151.05Z" fill="#ecc54d" stroke="#fff" stroke-width="1.5"/><text x="193" y="129.5" text-anchor="middle" font-family="Liberation Sans, sans-serif" font-size="8.6" font-weight="700" fill="#fff" style="text-shadow:1px 1px 1px rgba(0,0,0,.55)">11.1%</text><text x="161" y="217.5" text-anchor="middle" font-family="Liberation Sans, sans-serif" font-size="8.6" font-weight="700" fill="#fff" style="text-shadow:1px 1px 1px rgba(0,0,0,.55)">88.9%</text><circle cx="346.4" cy="128.4" r="4.35" fill="#3dba6c"/><text x="353" y="131.9" font-family="Liberation Sans, sans-serif" font-size="8.55" fill="#374151">Passed</text><circle cx="346.4" cy="145.1" r="4.35" fill="#e8646a"/><text x="353" y="148.6" font-family="Liberation Sans, sans-serif" font-size="8.55" fill="#374151">Failed</text><circle cx="346.4" cy="161.4" r="4.35" fill="#ecc54d"/><text x="353" y="164.9" font-family="Liberation Sans, sans-serif" font-size="8.55" fill="#374151">Skipped</text><circle cx="346.4" cy="177.5" r="4.35" fill="#5f6673"/><text x="353" y="181" font-family="Liberation Sans, sans-serif" font-size="8.55" fill="#374151">Pending</text></svg><div class="abs" style="left:409px;top:114.2px;width:376px;height:28.1px;background:#f4f6fe"></div><div class="abs" style="left:420.20000000000005px;top:120.4px;font-size:10.7px;line-height:13px;color:#566070;white-space:nowrap">Status</div><div class="abs" style="left:541.7px;top:123.5px;font-size:10.2px;line-height:13px;color:#1f2937;white-space:nowrap"><span style="color:#ef4444;font-weight:700;display:flex;align-items:center"><i style="width:7px;height:7px;border-radius:50%;background:#ef4444;display:inline-block;margin-right:3.5px;margin-left:.8px"></i><span style="font-size:9.8px">FAILED</span></span></div><div class="abs" style="left:409px;top:142.3px;width:376px;height:28.1px;background:#fff"></div><div class="abs" style="left:420.20000000000005px;top:148.5px;font-size:10.7px;line-height:13px;color:#566070;white-space:nowrap">Duration</div><div class="abs" style="left:541.7px;top:151.6px;font-size:10.2px;line-height:13px;color:#1f2937;white-space:nowrap">306h 24m</div><div class="abs" style="left:409px;top:170.4px;width:376px;height:28.1px;background:#f4f6fe"></div><div class="abs" style="left:420.20000000000005px;top:176.6px;font-size:10.7px;line-height:13px;color:#566070;white-space:nowrap">Tests</div><div class="abs" style="left:541.7px;top:179.7px;font-size:10.2px;line-height:13px;color:#1f2937;white-space:nowrap">9</div><div class="abs" style="left:409px;top:198.5px;width:376px;height:28.1px;background:#fff"></div><div class="abs" style="left:420.20000000000005px;top:204.7px;font-size:10.7px;line-height:13px;color:#566070;white-space:nowrap">Executed</div><div class="abs" style="left:541.7px;top:207.8px;font-size:10.2px;line-height:13px;color:#1f2937;white-space:nowrap">3 months ago</div><div class="abs" style="left:409px;top:226.6px;width:376px;height:28.1px;background:#f4f6fe"></div><div class="abs" style="left:420.20000000000005px;top:232.8px;font-size:10.7px;line-height:13px;color:#566070;white-space:nowrap">Build URL</div><div class="abs" style="left:541.7px;top:235.9px;font-size:10.2px;line-height:13px;color:#1f2937;white-space:nowrap"><span style="color:#6366f1;text-decoration:underline;display:inline-block;width:190px;overflow:hidden">https://github.com/testomatio/examples/actions/runs/re</span></div><div class="abs" style="left:409px;top:254.7px;width:376px;height:28.1px;background:#fff"></div><div class="abs" style="left:420.20000000000005px;top:260.9px;font-size:10.7px;line-height:13px;color:#566070;white-space:nowrap">Executed by</div><div class="abs" style="left:541.7px;top:264.0px;font-size:10.2px;line-height:13px;color:#1f2937;white-space:nowrap"></div><div class="abs" style="left:409px;top:282.8px;width:376px;height:28.1px;background:#f4f6fe"></div><div class="abs" style="left:420.20000000000005px;top:289.0px;font-size:10.7px;line-height:13px;color:#566070;white-space:nowrap">Created</div><div class="abs" style="left:541.7px;top:292.1px;font-size:10.2px;line-height:13px;color:#1f2937;white-space:nowrap">3 months ago</div><div class="abs" style="left:752.7px;top:235.9px;font-size:10.6px;line-height:13px;color:#6366f1;white-space:nowrap;width:20.5px;border-bottom:1px solid #a5b4fc;height:14.2px">po<span style="color:#4b5563">...</span></div><div class="abs" style="left:543.5px;top:262.5px;width:15.0px;height:15.0px;border-radius:50%;background:#1c1c1e"></div><svg class="abs" style="left:543.5px;top:262.5px" width="15.0" height="15.0" viewBox="0 0 24 24"><path d="M4.6 4.8H14.7V8.2H14.7V19.8H10.3V8.2H4.6Z" fill="#fff"/><path d="M14.7 4.8H17V12.2H14.7Z" fill="#4a7fe8"/><path d="M17 4.8H19.2V9H17Z" fill="#fff"/></svg><div class="abs" style="left:565px;top:264.0px;font-size:10.2px;line-height:13px;color:#1f2937">Tatiana</div><div class="abs" style="left:22px;top:352px;width:765px;height:1px;background:#eceef1"></div><div class="abs" style="left:22px;top:351.5px;width:29px;height:1.5px;background:#6366f1"></div><div class="abs" style="left:22px;top:330.7px;font-size:12.2px;line-height:15px;color:#6366f1;white-space:nowrap">Tests</div><div class="abs" style="left:68px;top:330.7px;font-size:12.2px;line-height:15px;color:#6b7280;white-space:nowrap">Statistics</div><div class="abs" style="left:135.5px;top:330.7px;font-size:12.2px;line-height:15px;color:#6b7280;white-space:nowrap">Defects</div><div class="abs" style="left:21.5px;top:362px;width:80.0px;height:25.5px;border:1px solid #e8eaee;border-radius:6px;background:#f9fafb"></div><span class="abs " style="left:33.5px;top:368.1px;font-size:10.5px;line-height:13.1px;letter-spacing:-0.204px;color:#374151;white-space:nowrap;">Passed</span><div class="abs" style="left:73.75px;top:368.5px;width:16.25px;height:12.5px;border-radius:3.5px;background:#d1fae5;color:#15803d;font-size:8.8px;line-height:12.5px;text-align:center">0</div><div class="abs" style="left:107.5px;top:362px;width:72.0px;height:25.5px;border:1px solid #e8eaee;border-radius:6px;background:#f9fafb"></div><span class="abs " style="left:119.2px;top:368.1px;font-size:10.5px;line-height:13.1px;letter-spacing:-0.170px;color:#374151;white-space:nowrap;">Failed</span><div class="abs" style="left:153px;top:368.5px;width:15px;height:12.5px;border-radius:3.5px;background:#fee2e2;color:#b91c1c;font-size:8.8px;line-height:12.5px;text-align:center">1</div><div class="abs" style="left:185.5px;top:362px;width:84.0px;height:25.5px;border:1px solid #e8eaee;border-radius:6px;background:#f9fafb"></div><span class="abs " style="left:197.2px;top:368.1px;font-size:10.5px;line-height:13.1px;letter-spacing:0.009px;color:#374151;white-space:nowrap;">Skipped</span><div class="abs" style="left:241.75px;top:368.5px;width:15.75px;height:12.5px;border-radius:3.5px;background:#fef3c7;color:#b45309;font-size:8.8px;line-height:12.5px;text-align:center">8</div><div class="abs" style="left:275px;top:362px;width:84px;height:25.5px;border:1px solid #e8eaee;border-radius:6px;background:#f9fafb"></div><span class="abs " style="left:286.7px;top:368.1px;font-size:10.5px;line-height:13.1px;letter-spacing:-0.039px;color:#374151;white-space:nowrap;">Pending</span><div class="abs" style="left:331px;top:368.5px;width:16.700000000000045px;height:12.5px;border-radius:3.5px;background:#f3f4f6;color:#374151;font-size:8.8px;line-height:12.5px;text-align:center">0</div><div class="abs" style="left:365px;top:362px;width:61.5px;height:25.5px;border:1px solid #e8eaee;border-radius:6px;background:#f9fafb"></div><div class="abs" style="left:397px;top:368.5px;width:18px;height:12.5px;border-radius:3.5px;background:#f3f4f6;color:#374151;font-size:8.8px;line-height:12.5px;text-align:center">1</div><div class="abs" style="left:374px;top:368px"><svg class="ic" width="13" height="13" viewBox="0 0 24 24" style=""><path fill="#1f2937" d="M13,10H11V6H13V10M13,12H11V14H13V12M22,4V16A2,2 0 0,1 20,18H6L2,22V4A2,2 0 0,1 4,2H20A2,2 0 0,1 22,4M20,4H4V17.2L5.2,16H20V4Z"/></svg></div><div class="abs" style="left:434.29999999999995px;top:361.7px;width:155px;height:25.6px;border:1px solid #e8eaee;border-radius:6px;background:#fff;overflow:hidden"><div class="abs" style="left:9.5px;top:5.5px"><svg class="ic" width="13" height="13" viewBox="0 0 24 24" style=""><path fill="#9ca3af" d="M9.5,3A6.5,6.5 0 0,1 16,9.5C16,11.11 15.41,12.59 14.44,13.73L14.71,14H15.5L20.5,19L19,20.5L14,15.5V14.71L13.73,14.44C12.59,15.41 11.11,16 9.5,16A6.5,6.5 0 0,1 3,9.5A6.5,6.5 0 0,1 9.5,3M9.5,5C7,5 5,7 5,9.5C5,12 7,14 9.5,14C12,14 14,12 14,9.5C14,7 12,5 9.5,5Z"/></svg></div><div class="abs" style="left:28px;top:5.3px;width:109.5px;overflow:hidden;font-size:10.7px;line-height:13px;color:#6b7280;white-space:nowrap">Search by title/message</div></div><div class="abs" style="left:600.9px;top:363.9px;width:21.0px;height:21.0px;border-radius:50%;background:#1c1c1e"></div><svg class="abs" style="left:600.9px;top:363.9px" width="21.0" height="21.0" viewBox="0 0 24 24"><path d="M4.6 4.8H14.7V8.2H14.7V19.8H10.3V8.2H4.6Z" fill="#fff"/><path d="M14.7 4.8H17V12.2H14.7Z" fill="#4a7fe8"/><path d="M17 4.8H19.2V9H17Z" fill="#fff"/></svg><span class="abs " style="left:22.0px;top:397.5px;font-size:12px;line-height:15.0px;letter-spacing:-0.007px;color:#1f2937;white-space:nowrap;">sort by:</span><span class="abs sl" style="left:64.5px;top:397.5px;font-size:12px;line-height:15.0px;letter-spacing:-0.087px;color:#6366f1;white-space:nowrap;">suite</span><span class="abs " style="left:92.8px;top:397.5px;font-size:12px;line-height:15.0px;letter-spacing:0.866px;color:#1f2937;white-space:nowrap;">/</span><span class="abs sl" style="left:100.3px;top:397.5px;font-size:12px;line-height:15.0px;letter-spacing:-0.070px;color:#6366f1;white-space:nowrap;">testcase</span><span class="abs " style="left:148.0px;top:397.5px;font-size:12px;line-height:15.0px;letter-spacing:0.666px;color:#1f2937;white-space:nowrap;">/</span><span class="abs sl" style="left:155.3px;top:397.5px;font-size:12px;line-height:15.0px;letter-spacing:-0.047px;color:#6366f1;white-space:nowrap;">failure</span><div class="abs" style="left:672px;top:396.5px;width:90.5px;height:19.5px;border:1px solid #eceef1;border-radius:5px;background:#f7f8fa"></div><div class="abs" style="left:679.7px;top:401.2px"><svg class="ic" width="10" height="10" viewBox="0 0 24 24" style=""><path fill="#1f2937" d="M9,5V9H21V5M9,19H21V15H9M9,14H21V10H9M4,9H8V5H4M4,19H8V15H4M4,14H8V10H4V14Z"/></svg></div><span class="abs " style="left:695.0px;top:399.6px;font-size:10.5px;line-height:13.1px;letter-spacing:0.101px;color:#1f2937;white-space:nowrap;">Default view</span><svg class="abs" style="left:769.5px;top:400.5px" width="11" height="11" viewBox="0 0 22 22" fill="none" stroke="#1f2937" stroke-width="2"><path d="M1 6H12M18 6H21M1 16H4M10 16H21"/><circle cx="15" cy="6" r="2.6"/><circle cx="7" cy="16" r="2.6"/></svg><div class="abs" style="left:21.5px;top:421px;width:763.5px;height:222.5px;border:1px solid #eceef1;border-radius:6px;overflow:hidden;background:#fff"><div class="abs" style="left:0;top:31.2px;width:763.5px;height:21.1px;background:#fff"></div><div class="abs" style="left:3.7px;top:37.7px"><svg class="ic" width="9" height="9" viewBox="0 0 24 24" style=""><path fill="#e5323b" d="M17,13H7V11H17M12,2A10,10 0 0,0 2,12A10,10 0 0,0 12,22A10,10 0 0,0 22,12A10,10 0 0,0 12,2Z"/></svg></div><div class="abs" style="left:18.5px;top:35.7px;width:13px;height:13px;border-radius:3px;background:#faf7ff;display:flex;align-items:center;justify-content:center"><svg class="ic" width="11" height="11" viewBox="0 0 24 24" style="" fill="none" stroke="#7c3aed" stroke-width="2.7" stroke-linecap="round"><path d="M20.2 10.2A9.3 9.3 0 1 0 10.2 20.2"/><path d="M15.4 10.6A4.6 4.6 0 1 0 10.6 15.4"/><path d="M11.5 11.5L21 15L17 17L15 21Z" fill="#5b21b6" stroke="#5b21b6" stroke-width="1.4" stroke-linejoin="round"/><path d="M17.5 17.5L21.3 21.3" stroke="#5b21b6" stroke-width="2.8"/></svg></div><span class="abs " style="left:35.3px;top:35.6px;font-size:10.6px;line-height:13.2px;letter-spacing:-0.104px;color:#374151;white-space:nowrap;">Create a new todo item2</span><div class="abs" style="left:349.5px;top:36.4px;font-size:8.9px;line-height:12px;color:#1f2937;white-space:nowrap">@first Create ...</div><div class="abs" style="left:0;top:52.3px;width:763.5px;height:21.1px;background:#fbfcff"></div><div class="abs" style="left:3.9px;top:59.0px;width:8.6px;height:8.6px;border-radius:50%;background:#fbb117"></div><div class="abs" style="left:6.6px;top:61.7px;width:3.2px;height:3.2px;border-radius:50%;background:#fff"></div><div class="abs" style="left:18.5px;top:56.8px;width:13px;height:13px;border-radius:3px;background:#faf7ff;display:flex;align-items:center;justify-content:center"><svg class="ic" width="11" height="11" viewBox="0 0 24 24" style="" fill="none" stroke="#7c3aed" stroke-width="2.7" stroke-linecap="round"><path d="M20.2 10.2A9.3 9.3 0 1 0 10.2 20.2"/><path d="M15.4 10.6A4.6 4.6 0 1 0 10.6 15.4"/><path d="M11.5 11.5L21 15L17 17L15 21Z" fill="#5b21b6" stroke="#5b21b6" stroke-width="1.4" stroke-linejoin="round"/><path d="M17.5 17.5L21.3 21.3" stroke="#5b21b6" stroke-width="2.8"/></svg></div><span class="abs " style="left:35.3px;top:56.7px;font-size:10.6px;line-height:13.2px;letter-spacing:-0.100px;color:#374151;white-space:nowrap;">Footer should be visible when adding TODOs2</span><div class="abs" style="left:349.5px;top:57.5px;font-size:8.9px;line-height:12px;color:#1f2937;white-space:nowrap">@first Create ...</div><div class="abs" style="left:0;top:73.4px;width:763.5px;height:21.1px;background:#fff"></div><div class="abs" style="left:3.9px;top:80.1px;width:8.6px;height:8.6px;border-radius:50%;background:#fbb117"></div><div class="abs" style="left:6.6px;top:82.8px;width:3.2px;height:3.2px;border-radius:50%;background:#fff"></div><div class="abs" style="left:18.5px;top:77.9px;width:13px;height:13px;border-radius:3px;background:#faf7ff;display:flex;align-items:center;justify-content:center"><svg class="ic" width="11" height="11" viewBox="0 0 24 24" style="" fill="none" stroke="#7c3aed" stroke-width="2.7" stroke-linecap="round"><path d="M20.2 10.2A9.3 9.3 0 1 0 10.2 20.2"/><path d="M15.4 10.6A4.6 4.6 0 1 0 10.6 15.4"/><path d="M11.5 11.5L21 15L17 17L15 21Z" fill="#5b21b6" stroke="#5b21b6" stroke-width="1.4" stroke-linejoin="round"/><path d="M17.5 17.5L21.3 21.3" stroke="#5b21b6" stroke-width="2.8"/></svg></div><span class="abs " style="left:35.3px;top:77.8px;font-size:10.6px;line-height:13.2px;letter-spacing:-0.012px;color:#374151;white-space:nowrap;">New todos should be added to the bottom of the list2</span><div class="abs" style="left:349.5px;top:78.6px;font-size:8.9px;line-height:12px;color:#1f2937;white-space:nowrap">@first Create ...</div><div class="abs" style="left:0;top:94.5px;width:763.5px;height:21.1px;background:#fbfcff"></div><div class="abs" style="left:3.9px;top:101.2px;width:8.6px;height:8.6px;border-radius:50%;background:#fbb117"></div><div class="abs" style="left:6.6px;top:103.9px;width:3.2px;height:3.2px;border-radius:50%;background:#fff"></div><div class="abs" style="left:18.5px;top:99.0px;width:13px;height:13px;border-radius:3px;background:#faf7ff;display:flex;align-items:center;justify-content:center"><svg class="ic" width="11" height="11" viewBox="0 0 24 24" style="" fill="none" stroke="#7c3aed" stroke-width="2.7" stroke-linecap="round"><path d="M20.2 10.2A9.3 9.3 0 1 0 10.2 20.2"/><path d="M15.4 10.6A4.6 4.6 0 1 0 10.6 15.4"/><path d="M11.5 11.5L21 15L17 17L15 21Z" fill="#5b21b6" stroke="#5b21b6" stroke-width="1.4" stroke-linejoin="round"/><path d="M17.5 17.5L21.3 21.3" stroke="#5b21b6" stroke-width="2.8"/></svg></div><span class="abs " style="left:35.3px;top:98.9px;font-size:10.6px;line-height:13.2px;letter-spacing:-0.018px;color:#374151;white-space:nowrap;">Text input should be trimmed2</span><div class="abs" style="left:349.5px;top:99.7px;font-size:8.9px;line-height:12px;color:#1f2937;white-space:nowrap">@first Create ...</div><div class="abs" style="left:0;top:115.6px;width:763.5px;height:21.1px;background:#fff"></div><div class="abs" style="left:3.9px;top:122.3px;width:8.6px;height:8.6px;border-radius:50%;background:#fbb117"></div><div class="abs" style="left:6.6px;top:125.0px;width:3.2px;height:3.2px;border-radius:50%;background:#fff"></div><div class="abs" style="left:18.5px;top:120.1px;width:13px;height:13px;border-radius:3px;background:#faf7ff;display:flex;align-items:center;justify-content:center"><svg class="ic" width="11" height="11" viewBox="0 0 24 24" style="" fill="none" stroke="#7c3aed" stroke-width="2.7" stroke-linecap="round"><path d="M20.2 10.2A9.3 9.3 0 1 0 10.2 20.2"/><path d="M15.4 10.6A4.6 4.6 0 1 0 10.6 15.4"/><path d="M11.5 11.5L21 15L17 17L15 21Z" fill="#5b21b6" stroke="#5b21b6" stroke-width="1.4" stroke-linejoin="round"/><path d="M17.5 17.5L21.3 21.3" stroke="#5b21b6" stroke-width="2.8"/></svg></div><span class="abs " style="left:35.3px;top:120.0px;font-size:10.6px;line-height:13.2px;letter-spacing:-0.009px;color:#374151;white-space:nowrap;">Text input field should be cleared after each item2</span><div class="abs" style="left:349.5px;top:120.8px;font-size:8.9px;line-height:12px;color:#1f2937;white-space:nowrap">@first Create ...</div><div class="abs" style="left:0;top:136.7px;width:763.5px;height:21.1px;background:#fbfcff"></div><div class="abs" style="left:3.9px;top:143.4px;width:8.6px;height:8.6px;border-radius:50%;background:#fbb117"></div><div class="abs" style="left:6.6px;top:146.1px;width:3.2px;height:3.2px;border-radius:50%;background:#fff"></div><div class="abs" style="left:18.5px;top:141.2px;width:13px;height:13px;border-radius:3px;background:#faf7ff;display:flex;align-items:center;justify-content:center"><svg class="ic" width="11" height="11" viewBox="0 0 24 24" style="" fill="none" stroke="#7c3aed" stroke-width="2.7" stroke-linecap="round"><path d="M20.2 10.2A9.3 9.3 0 1 0 10.2 20.2"/><path d="M15.4 10.6A4.6 4.6 0 1 0 10.6 15.4"/><path d="M11.5 11.5L21 15L17 17L15 21Z" fill="#5b21b6" stroke="#5b21b6" stroke-width="1.4" stroke-linejoin="round"/><path d="M17.5 17.5L21.3 21.3" stroke="#5b21b6" stroke-width="2.8"/></svg></div><span class="abs " style="left:35.3px;top:141.1px;font-size:10.6px;line-height:13.2px;letter-spacing:0.001px;color:#374151;white-space:nowrap;">Todos containing weird characters2</span><div class="abs" style="left:349.5px;top:141.9px;font-size:8.9px;line-height:12px;color:#1f2937;white-space:nowrap">@first Create ...</div><div class="abs" style="left:0;top:157.8px;width:763.5px;height:21.1px;background:#fff"></div><div class="abs" style="left:3.9px;top:164.5px;width:8.6px;height:8.6px;border-radius:50%;background:#fbb117"></div><div class="abs" style="left:6.6px;top:167.2px;width:3.2px;height:3.2px;border-radius:50%;background:#fff"></div><div class="abs" style="left:18.5px;top:162.3px;width:13px;height:13px;border-radius:3px;background:#faf7ff;display:flex;align-items:center;justify-content:center"><svg class="ic" width="11" height="11" viewBox="0 0 24 24" style="" fill="none" stroke="#7c3aed" stroke-width="2.7" stroke-linecap="round"><path d="M20.2 10.2A9.3 9.3 0 1 0 10.2 20.2"/><path d="M15.4 10.6A4.6 4.6 0 1 0 10.6 15.4"/><path d="M11.5 11.5L21 15L17 17L15 21Z" fill="#5b21b6" stroke="#5b21b6" stroke-width="1.4" stroke-linejoin="round"/><path d="M17.5 17.5L21.3 21.3" stroke="#5b21b6" stroke-width="2.8"/></svg></div><span class="abs " style="left:35.3px;top:162.2px;font-size:10.6px;line-height:13.2px;letter-spacing:0.001px;color:#374151;white-space:nowrap;">Todos containing weird characters2</span><div class="abs" style="left:349.5px;top:163.0px;font-size:8.9px;line-height:12px;color:#1f2937;white-space:nowrap">@first Create ...</div><div class="abs" style="left:0;top:178.9px;width:763.5px;height:21.1px;background:#fbfcff"></div><div class="abs" style="left:3.9px;top:185.6px;width:8.6px;height:8.6px;border-radius:50%;background:#fbb117"></div><div class="abs" style="left:6.6px;top:188.3px;width:3.2px;height:3.2px;border-radius:50%;background:#fff"></div><div class="abs" style="left:18.5px;top:183.4px;width:13px;height:13px;border-radius:3px;background:#faf7ff;display:flex;align-items:center;justify-content:center"><svg class="ic" width="11" height="11" viewBox="0 0 24 24" style="" fill="none" stroke="#7c3aed" stroke-width="2.7" stroke-linecap="round"><path d="M20.2 10.2A9.3 9.3 0 1 0 10.2 20.2"/><path d="M15.4 10.6A4.6 4.6 0 1 0 10.6 15.4"/><path d="M11.5 11.5L21 15L17 17L15 21Z" fill="#5b21b6" stroke="#5b21b6" stroke-width="1.4" stroke-linejoin="round"/><path d="M17.5 17.5L21.3 21.3" stroke="#5b21b6" stroke-width="2.8"/></svg></div><span class="abs " style="left:35.3px;top:183.3px;font-size:10.6px;line-height:13.2px;letter-spacing:0.001px;color:#374151;white-space:nowrap;">Todos containing weird characters2</span><div class="abs" style="left:349.5px;top:184.1px;font-size:8.9px;line-height:12px;color:#1f2937;white-space:nowrap">@first Create ...</div><div class="abs" style="left:0;top:200.0px;width:763.5px;height:21.1px;background:#fff"></div><div class="abs" style="left:3.9px;top:206.7px;width:8.6px;height:8.6px;border-radius:50%;background:#fbb117"></div><div class="abs" style="left:6.6px;top:209.4px;width:3.2px;height:3.2px;border-radius:50%;background:#fff"></div><div class="abs" style="left:18.5px;top:204.5px;width:13px;height:13px;border-radius:3px;background:#faf7ff;display:flex;align-items:center;justify-content:center"><svg class="ic" width="11" height="11" viewBox="0 0 24 24" style="" fill="none" stroke="#7c3aed" stroke-width="2.7" stroke-linecap="round"><path d="M20.2 10.2A9.3 9.3 0 1 0 10.2 20.2"/><path d="M15.4 10.6A4.6 4.6 0 1 0 10.6 15.4"/><path d="M11.5 11.5L21 15L17 17L15 21Z" fill="#5b21b6" stroke="#5b21b6" stroke-width="1.4" stroke-linejoin="round"/><path d="M17.5 17.5L21.3 21.3" stroke="#5b21b6" stroke-width="2.8"/></svg></div><span class="abs " style="left:35.3px;top:204.4px;font-size:10.6px;line-height:13.2px;letter-spacing:-0.059px;color:#374151;white-space:nowrap;">Create multiple todo items2</span><div class="abs" style="left:349.5px;top:205.2px;font-size:8.9px;line-height:12px;color:#1f2937;white-space:nowrap">@first Create ...</div><div class="abs" style="left:0;top:0;width:763.5px;height:31.2px;background:#fff;border-bottom:1px solid #f0f1f4"></div><span class="abs " style="left:162.3px;top:8.9px;font-size:10.4px;line-height:13.0px;letter-spacing:-0.048px;color:#374151;font-weight:700;white-space:nowrap;">Title</span><span class="abs " style="left:369.2px;top:8.9px;font-size:10.4px;line-height:13.0px;letter-spacing:-0.107px;color:#374151;font-weight:700;white-space:nowrap;">Suite</span><span class="abs " style="left:423.5px;top:8.9px;font-size:10.4px;line-height:13.0px;letter-spacing:-0.435px;color:#374151;font-weight:700;white-space:nowrap;">Tags &amp; Envs</span><span class="abs " style="left:498.5px;top:8.9px;font-size:10.4px;line-height:13.0px;letter-spacing:-0.247px;color:#374151;font-weight:700;white-space:nowrap;">Substatus</span><span class="abs " style="left:573.2px;top:8.9px;font-size:10.4px;line-height:13.0px;letter-spacing:-0.267px;color:#374151;font-weight:700;white-space:nowrap;">Runtime</span><span class="abs " style="left:648.2px;top:8.9px;font-size:10.4px;line-height:13.0px;letter-spacing:-0.416px;color:#374151;font-weight:700;white-space:nowrap;">Issues</span><span class="abs " style="left:704.8px;top:8.9px;font-size:10.4px;line-height:13.0px;letter-spacing:-0.193px;color:#374151;font-weight:700;white-space:nowrap;">Assigned To</span><div class="abs" style="left:344.3px;top:0;width:2.5px;height:31px;background:#e6e8f0"></div><div class="abs" style="left:415.0px;top:0;width:2.5px;height:31px;background:#e6e8f0"></div><div class="abs" style="left:485.3px;top:0;width:2.5px;height:31px;background:#e6e8f0"></div><div class="abs" style="left:555.7px;top:0;width:2.5px;height:31px;background:#e6e8f0"></div><div class="abs" style="left:626.0px;top:0;width:2.5px;height:31px;background:#e6e8f0"></div><div class="abs" style="left:696.5px;top:0;width:2.5px;height:31px;background:#e6e8f0"></div></div></div><div class="abs" id="dd" style="left:1047px;top:42.3px;width:180px;height:325.6px;background:#fff;border-radius:6px;box-shadow:0 4px 14px rgba(0,0,0,.13),0 0 2px rgba(0,0,0,.10)"><div class="abs" style="left:0;top:30.200000000000003px;width:142px;height:27px;background:#fafbfc"></div><div class="abs" style="left:10.799999999999955px;top:10.7px"><svg class="ic" width="13" height="13" viewBox="0 0 24 24" fill="none" stroke="#1f2937" stroke-width="2.2"><circle cx="12.5" cy="12.5" r="6"/><path d="M5 4.5A11 11 0 0 0 2.8 16" stroke-linecap="round"/><path d="M7.5 2.8A10.5 10.5 0 0 1 22.5 12.5A10 10 0 0 1 5 19" stroke-linecap="round"/><path d="M10.8 9.6L15.6 12.5L10.8 15.4Z" fill="#1f2937" stroke-width="1"/></svg></div><span class="abs " style="left:33.5px;top:10.9px;font-size:10.5px;line-height:13.1px;letter-spacing:-0.195px;color:#374151;white-space:nowrap;">Relaunch Failed on CI</span><div class="abs" style="left:10.799999999999955px;top:37.0px"><svg class="ic" width="13" height="13" viewBox="0 0 24 24" fill="none" stroke="#1f2937" stroke-width="2.1"><path d="M12 2.5A9.5 9.5 0 1 1 2.5 12" stroke-linecap="round"/><path d="M3.2 8.2L3.3 8M5.3 5.1L5.5 4.9M8.3 3.2L8.5 3.1" stroke-linecap="round" stroke-width="2.4"/><path d="M9.8 8L16 12L9.8 16Z" fill="#1f2937" stroke="none"/></svg></div><span class="abs " style="left:33.5px;top:37.2px;font-size:10.5px;line-height:13.1px;letter-spacing:-0.140px;color:#374151;white-space:nowrap;">Relaunch All on CI</span><div class="abs" style="left:10.799999999999955px;top:63.4px"><svg class="ic" width="13" height="13" viewBox="0 0 24 24" style=""><path fill="#1f2937" d="M18.4,10.6C16.55,9 14.15,8 11.5,8C6.85,8 2.92,11.03 1.54,15.22L3.9,16C4.95,12.81 7.95,10.5 11.5,10.5C13.45,10.5 15.23,11.22 16.62,12.38L13,16H22V7L18.4,10.6Z"/></svg></div><span class="abs " style="left:33.5px;top:63.6px;font-size:10.5px;line-height:13.1px;letter-spacing:-0.144px;color:#374151;white-space:nowrap;">Relaunch Manually</span><div class="abs" style="left:10.799999999999955px;top:89.6px"><svg class="ic" width="13" height="13" viewBox="0 0 24 24" style=""><path fill="#1f2937" d="M12,20C7.59,20 4,16.41 4,12C4,7.59 7.59,4 12,4C16.41,4 20,7.59 20,12C20,16.41 16.41,20 12,20M12,2A10,10 0 0,0 2,12A10,10 0 0,0 12,22A10,10 0 0,0 22,12A10,10 0 0,0 12,2M10,16.5L16,12L10,7.5V16.5Z"/></svg></div><span class="abs " style="left:33.5px;top:89.8px;font-size:10.5px;line-height:13.1px;letter-spacing:-0.086px;color:#374151;white-space:nowrap;">Advanced Relaunch</span><div class="abs" style="left:10.799999999999955px;top:115.8px"><svg class="ic" width="13" height="13" viewBox="0 0 24 24" style=""><path fill="#1f2937" d="M8,5.14V19.14L19,12.14L8,5.14Z"/></svg></div><span class="abs " style="left:33.5px;top:116.0px;font-size:10.5px;line-height:13.1px;letter-spacing:-0.075px;color:#374151;white-space:nowrap;">Launch a Copy Manually</span><div class="abs" style="left:10.799999999999955px;top:142.0px"><svg class="ic" width="13" height="13" viewBox="0 0 24 24" style=""><path fill="#1f2937" d="M3,3H21V7H3V3M4,8H20V21H4V8M9.5,11A0.5,0.5 0 0,0 9,11.5V13H15V11.5A0.5,0.5 0 0,0 14.5,11H9.5Z"/></svg></div><span class="abs " style="left:33.5px;top:142.1px;font-size:10.5px;line-height:13.1px;letter-spacing:-0.085px;color:#374151;white-space:nowrap;">Archive</span><div class="abs" style="left:10.799999999999955px;top:168.2px"><svg class="ic" width="13" height="13" viewBox="0 0 24 24" style=""><path fill="#1f2937" d="M16,12V4H17V2H7V4H8V12L6,14V16H11.2V22H12.8V16H18V14L16,12Z"/></svg></div><span class="abs " style="left:33.5px;top:168.3px;font-size:10.5px;line-height:13.1px;letter-spacing:-0.538px;color:#374151;white-space:nowrap;">Pin</span><div class="abs" style="left:10.799999999999955px;top:194.4px"><svg class="ic" width="13" height="13" viewBox="0 0 24 24" style=""><path fill="#1f2937" d="M19 3H5C3.9 3 3 3.9 3 5V19C3 20.1 3.9 21 5 21H19C20.1 21 21 20.1 21 19V5C21 3.9 20.1 3 19 3M9.5 11.5C9.5 12.3 8.8 13 8 13H7V15H5.5V9H8C8.8 9 9.5 9.7 9.5 10.5V11.5M14.5 13.5C14.5 14.3 13.8 15 13 15H10.5V9H13C13.8 9 14.5 9.7 14.5 10.5V13.5M18.5 10.5H17V11.5H18.5V13H17V15H15.5V9H18.5V10.5M12 10.5H13V13.5H12V10.5M7 10.5H8V11.5H7V10.5Z"/></svg></div><span class="abs " style="left:33.5px;top:194.5px;font-size:10.5px;line-height:13.1px;letter-spacing:-0.239px;color:#374151;white-space:nowrap;">Export as PDF</span><div class="abs" style="left:10.799999999999955px;top:220.6px"><svg class="ic" width="13" height="13" viewBox="0 0 24 24" style=""><path fill="#1f2937" d="M4,11V13H16L10.5,18.5L11.92,19.92L19.84,12L11.92,4.08L10.5,5.5L16,11H4Z"/></svg></div><span class="abs " style="left:33.5px;top:220.7px;font-size:10.5px;line-height:13.1px;letter-spacing:-0.125px;color:#374151;white-space:nowrap;">Move</span><div class="abs" style="left:10.799999999999955px;top:247.4px"><svg class="ic" width="13.5" height="13.5" viewBox="0 0 24 24" style=""><path fill="#1f2937" d="M21.4 11.6L12.4 2.6C12 2.2 11.5 2 11 2H4C2.9 2 2 2.9 2 4V11C2 11.5 2.2 12 2.6 12.4L11.6 21.4C12 21.8 12.5 22 13 22C13.5 22 14 21.8 14.4 21.4L21.4 14.4C21.8 14 22 13.5 22 13C22 12.5 21.8 12 21.4 11.6M13 20L4 11V4H11L20 13M6.5 5C7.3 5 8 5.7 8 6.5S7.3 8 6.5 8 5 7.3 5 6.5 5.7 5 6.5 5M10.1 8.9L11.5 7.5L17 13L15.6 14.4L10.1 8.9M7.6 11.4L9 10L13 14L11.6 15.4L7.6 11.4Z"/></svg></div><span class="abs " style="left:33.5px;top:247.5px;font-size:10.5px;line-height:13.1px;letter-spacing:-0.208px;color:#374151;white-space:nowrap;">Labels</span><div class="abs" style="left:10.799999999999955px;top:273.9px"><svg class="ic" width="13" height="13" viewBox="0 0 24 24" style=""><path fill="#1f2937" d="M19,13H13V19H11V13H5V11H11V5H13V11H19V13Z"/></svg></div><span class="abs " style="left:33.5px;top:274.0px;font-size:10.5px;line-height:13.1px;letter-spacing:-0.096px;color:#374151;white-space:nowrap;">Link to Issue</span><div class="abs" style="left:10.799999999999955px;top:300.2px"><svg class="ic" width="14" height="14" viewBox="0 0 24 24" style=""><path fill="#e02424" d="M6,19A2,2 0 0,0 8,21H16A2,2 0 0,0 18,19V7H6V19M8,9H16V19H8V9M15.5,4L14.5,3H9.5L8.5,4H5V6H19V4H15.5Z"/></svg></div><span class="abs " style="left:33.5px;top:300.3px;font-size:10.5px;line-height:13.1px;letter-spacing:-0.170px;color:#e02424;white-space:nowrap;">Delete</span><div class="abs" style="left:0;top:56.7px;width:180px;height:1px;background:#eef0f3"></div><div class="abs" style="left:0;top:240.7px;width:180px;height:1px;background:#eef0f3"></div><div class="abs" style="left:0;top:292.9px;width:180px;height:1px;background:#eef0f3"></div></div><div class="abs" style="left:1.8px;top:94px;width:46.5px;height:38.9px;border:2.2px solid #f42a3c;border-radius:1.5px;background:transparent;box-shadow:0 1px 3px rgba(0,0,0,.12)"></div><div class="abs" style="left:38.2px;top:122px;width:16px;height:16px;border-radius:50%;background:#f42a3c;color:#fff;font-size:11.5px;font-weight:700;line-height:16.4px;text-align:center">1</div><div class="abs" style="left:75.7px;top:454.5px;width:237.6px;height:28.5px;border:2.2px solid #f42a3c;border-radius:1.5px;background:transparent;box-shadow:0 1px 3px rgba(0,0,0,.12)"></div><div class="abs" style="left:1194.7px;top:3.4px;width:40.1px;height:38.0px;border:2.2px solid #f42a3c;border-radius:1.5px;background:transparent;box-shadow:0 1px 3px rgba(0,0,0,.12)"></div><div class="abs" style="left:1225.2px;top:30.799999999999997px;width:16px;height:16px;border-radius:50%;background:#f42a3c;color:#fff;font-size:11.5px;font-weight:700;line-height:16.4px;text-align:center">2</div><div class="abs" style="left:1047.2px;top:72.1px;width:142.2px;height:27.9px;border:2.2px solid #f42a3c;border-radius:1.5px;background:transparent;box-shadow:0 1px 3px rgba(0,0,0,.12)"></div><div class="abs" style="left:1180.8px;top:91.4px;width:16px;height:16px;border-radius:50%;background:#f42a3c;color:#fff;font-size:11.5px;font-weight:700;line-height:16.4px;text-align:center">3</div></body></html>
